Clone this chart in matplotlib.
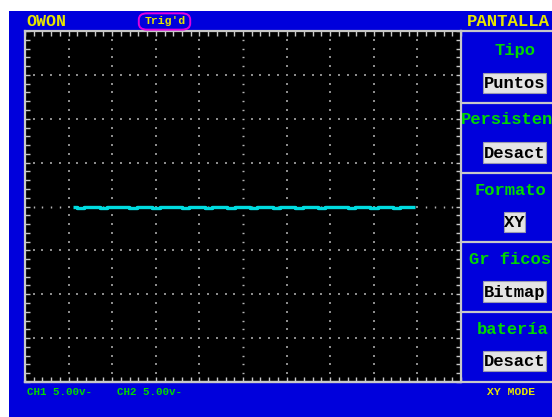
import matplotlib
matplotlib.use("Agg")
import matplotlib.pyplot as plt
from matplotlib.patches import Rectangle, FancyBboxPatch
from matplotlib.lines import Line2D

# ---- data (XY mode: CH1 on x, CH2 on y, volts) ----
ch1_volts = [-19.5, -18.6, -17.8, -16.9, -16.0, -15.2, -14.3, -13.5, -12.6, -11.7,
             -10.9, -10.0, -9.1, -8.3, -7.4, -6.6, -5.7, -4.8, -4.0, -3.1,
             -2.2, -1.4, -0.5, 0.4, 1.2, 2.1, 3.0, 3.8, 4.7, 5.5,
             6.4, 7.3, 8.1, 9.0, 9.9, 10.7, 11.6, 12.4, 13.3, 14.2,
             15.0, 15.9, 16.8, 17.6, 18.5, 19.3, 19.7]
ch2_volts = [0.0, -0.12, 0.0, 0.0, -0.12, 0.0, 0.0, 0.0, -0.12, 0.0,
             0.0, -0.12, 0.0, 0.0, 0.0, -0.12, 0.0, 0.0, -0.12, 0.0,
             0.0, -0.12, 0.0, 0.0, -0.12, 0.0, 0.0, -0.12, 0.0, 0.0,
             -0.12, 0.0, 0.0, -0.12, 0.0, 0.0, 0.0, -0.12, 0.0, 0.0,
             -0.12, 0.0, 0.0, -0.12, 0.0, 0.0, 0.0]
volts_per_div = 5.0
h_divs = 10
v_divs = 8

header_left = "OWON"
trig_label = "Trig'd"
menu_title = "PANTALLA"
menu_labels = ["Tipo", "Persisten", "Formato", "Gr ficos", "batería"]
menu_values = ["Puntos", "Desact", "XY", "Bitmap", "Desact"]
ch_labels = ["CH1 5.00v-", "CH2 5.00v-"]
mode_label = "XY MODE"

W, H = 552, 417
BLUE = "#0000dc"
GREEN = "#00d800"
YELLOW = "#e6e600"
LINE = "#c8c8c8"
TRACE = "#00dce0"
MONO = ["Liberation Mono", "DejaVu Sans Mono"]

fig = plt.figure(figsize=(W / 100, H / 100), dpi=100)
fig.patch.set_facecolor("white")

def fx(px):
    return px / W

def fy(py):
    return 1 - py / H

# blue screen background
fig.patches.append(Rectangle((fx(9), fy(417)), fx(552) - fx(9), fy(11) - fy(417),
                             transform=fig.transFigure, facecolor=BLUE, edgecolor="none",
                             zorder=-10))

# grid axes
gx0, gx1, gy0, gy1 = 25, 461, 31, 382
ax = fig.add_axes([fx(gx0), fy(gy1), fx(gx1) - fx(gx0), fy(gy0) - fy(gy1)])
ax.set_zorder(1)
ax.set_facecolor("black")
half_x = h_divs / 2 * volts_per_div
half_y = v_divs / 2 * volts_per_div
ax.set_xlim(-half_x, half_x)
ax.set_ylim(-half_y, half_y)
minor = volts_per_div / 5
xt = [i * minor for i in range(int(-half_x / minor), int(half_x / minor) + 1)]
yt = [i * minor for i in range(int(-half_y / minor), int(half_y / minor) + 1)]
ax.set_xticks(xt)
ax.set_yticks(yt)
ax.tick_params(direction="in", length=3.5, width=1.0, color=LINE,
               top=True, right=True, labelbottom=False, labelleft=False)
for s in ax.spines.values():
    s.set_color(LINE)
    s.set_linewidth(1.6)

# dotted graticule
DOT = "#8c8c8c"
div_x = [i * volts_per_div for i in range(-h_divs // 2 + 1, h_divs // 2)]
div_y = [i * volts_per_div for i in range(-v_divs // 2 + 1, v_divs // 2)]
for x in div_x:
    pts = [y for y in yt if abs(y) < half_y]
    if x:
        ax.scatter([x] * len(pts), pts, s=0.7, marker="s", color=DOT,
                   linewidths=0, zorder=2)
    else:
        ax.scatter([x] * len(pts), pts, s=4, marker="_", color="#b4b4b4",
                   linewidths=1.0, zorder=2)
for y in div_y:
    pts = [x for x in xt if abs(x) < half_x and x not in div_x]
    if y:
        ax.scatter(pts, [y] * len(pts), s=0.7, marker="s", color=DOT, linewidths=0, zorder=2)
    else:
        ax.scatter(pts, [y] * len(pts), s=4, marker="|", color="#b4b4b4",
                   linewidths=1.0, zorder=2)

# trace
ax.plot(ch1_volts, ch2_volts, color=TRACE, lw=2.4, drawstyle="steps-mid",
        solid_capstyle="butt", zorder=3)

# right menu panel separators
for py in [31, 103, 173, 242, 312]:
    fig.add_artist(Line2D([fx(461), fx(552)], [fy(py), fy(py)], transform=fig.transFigure,
                          color=LINE, lw=1.6))
fig.add_artist(Line2D([fx(25), fx(552)], [fy(382), fy(382)], transform=fig.transFigure,
                      color=LINE, lw=1.6))

label_y = [51, 120, 190, 260, 329]
box_y = [(73, 93), (142, 163), (212, 232), (281, 302), (351, 371)]
label_x = [515, 461, 511, 510, 513]
for i, (lab, val) in enumerate(zip(menu_labels, menu_values)):
    ha = "left" if i == 1 else "center"
    fig.text(fx(label_x[i]), fy(label_y[i]), lab, color=GREEN, family=MONO,
             weight="bold", fontsize=12.3, ha=ha, va="center")
    y0, y1 = box_y[i]
    if val == "XY":
        bx0, bx1 = 504, 525
    else:
        bx0, bx1 = 483, 546
    fig.patches.append(Rectangle((fx(bx0), fy(y1)), fx(bx1) - fx(bx0), fy(y0) - fy(y1),
                                 transform=fig.transFigure, facecolor="#e4e4e4",
                                 edgecolor="#9a9ab0", lw=0.8, zorder=1))
    fig.text(fx((bx0 + bx1) / 2), fy((y0 + y1) / 2 + 0.5), val, color="black", family=MONO,
             weight="bold", fontsize=12.3, ha="center", va="center")

# header
fig.text(fx(26), fy(22), header_left, color=YELLOW, family=MONO, weight="bold",
         fontsize=12, ha="left", va="center")
fig.patches.append(FancyBboxPatch((fx(141), fy(28)), fx(188) - fx(141), fy(15) - fy(28),
                                  boxstyle="round,pad=0.004,rounding_size=0.015",
                                  transform=fig.transFigure, facecolor=BLUE,
                                  edgecolor="#e000e0", lw=1.4, zorder=1))
fig.text(fx(165), fy(21.5), trig_label, color=YELLOW, family=MONO, weight="bold",
         fontsize=8.2, ha="center", va="center")
fig.text(fx(467), fy(21.5), menu_title, color=YELLOW, family=MONO, weight="bold",
         fontsize=12.5, ha="left", va="center")

# footer
fig.text(fx(27), fy(392), ch_labels[0], color=GREEN, family=MONO, weight="bold",
         fontsize=7.8, ha="left", va="center")
fig.text(fx(117), fy(392), ch_labels[1], color=GREEN, family=MONO, weight="bold",
         fontsize=7.8, ha="left", va="center")
fig.text(fx(511), fy(392), mode_label, color=YELLOW, family=MONO, weight="bold",
         fontsize=8.2, ha="center", va="center")

fig.savefig("out.png", dpi=100, facecolor=fig.get_facecolor())
